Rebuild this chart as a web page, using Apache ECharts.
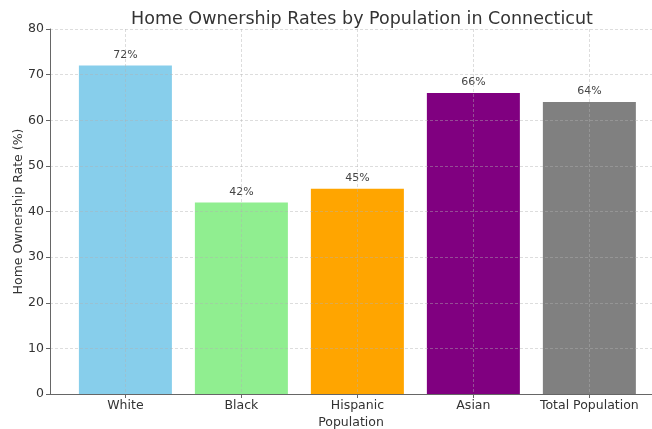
<!DOCTYPE html>
<html>
<head>
<meta charset="utf-8">
<script src="https://cdn.jsdelivr.net/npm/echarts@6/dist/echarts.min.js"></script>
<style>
  html, body { margin: 0; padding: 0; background: #fff; }
  #chart { width: 652px; height: 429px; }
</style>
</head>
<body>
<div id="chart"></div>
<script>
// Home ownership rates (%) by population group
const categories = ['White', 'Black', 'Hispanic', 'Asian', 'Total Population'];
const rates = [72, 42, 45, 66, 64];
const barColors = ['#87CEEB', '#90EE90', '#FFA500', '#800080', '#808080'];
const yTicks = [0, 10, 20, 30, 40, 50, 60, 70, 80];

const positions = categories.map((_, i) => i);
const barData = rates.map((v, i) => ({
  value: [i, v],
  itemStyle: { color: barColors[i] }
}));

const font = 'DejaVu Sans, Noto Sans, sans-serif';
// translucent dashed grid, drawn above the bars
const gridLine = { show: true, lineStyle: { color: 'rgba(176,176,176,0.55)', type: [3, 2], width: 0.8 } };

const chart = echarts.init(document.getElementById('chart'), null, { renderer: 'canvas' });
chart.setOption({
  animation: false,
  backgroundColor: '#fff',
  title: {
    text: 'Home Ownership Rates by Population in Connecticut',
    left: 357,
    textAlign: 'center',
    top: 5,
    textStyle: { fontFamily: font, fontSize: 17.5, fontWeight: 'normal', color: '#333' }
  },
  grid: {
    left: 50, right: 0, top: 29, bottom: 35,
    containLabel: false,
    outerBoundsMode: 'none'
  },
  xAxis: {
    type: 'value',
    // the plot area runs past the right edge of the canvas
    min: -0.65,
    max: 4.54,
    z: 3,
    name: 'Population',
    nameLocation: 'middle',
    nameGap: 22,
    nameMoveOverlap: false,
    nameTextStyle: { fontFamily: font, fontSize: 12.5, color: '#333' },
    axisLine: { show: true, onZero: false, lineStyle: { color: '#666', width: 1 } },
    axisTick: { show: true, customValues: positions, length: 4, lineStyle: { color: '#666' } },
    axisLabel: {
      customValues: positions,
      formatter: v => categories[Math.round(v)],
      fontFamily: font, fontSize: 12.5, color: '#333', margin: 5
    },
    splitLine: gridLine
  },
  yAxis: {
    type: 'value',
    min: 0,
    max: 80,
    interval: 10,
    z: 3,
    name: 'Home Ownership Rate (%)',
    nameLocation: 'middle',
    nameGap: 25,
    nameMoveOverlap: false,
    nameTextStyle: { fontFamily: font, fontSize: 12.5, color: '#333' },
    axisLine: { show: true, onZero: false, lineStyle: { color: '#666', width: 1 } },
    axisTick: { show: true, length: 4, lineStyle: { color: '#666' } },
    axisLabel: {
      formatter: v => (yTicks.includes(v) ? String(v) : ''),
      fontFamily: font, fontSize: 12.5, color: '#333', margin: 6
    },
    splitLine: gridLine
  },
  series: [{
    type: 'bar',
    data: barData,
    barWidth: 93,
    z: 1,
    label: {
      show: true,
      position: 'top',
      distance: 5,
      formatter: p => p.value[1] + '%',
      fontFamily: font, fontSize: 11, color: '#444'
    }
  }]
});
</script>
</body>
</html>
